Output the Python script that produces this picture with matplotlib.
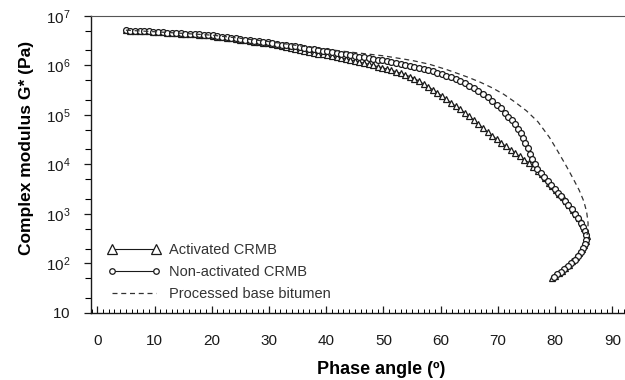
import math
import matplotlib
matplotlib.use("Agg")
import matplotlib.pyplot as plt
from matplotlib.ticker import FixedLocator, MultipleLocator, FuncFormatter

# Activated CRMB (triangles): phase angle (deg), complex modulus (Pa)
act_phase = [
    5.0, 5.8, 6.6, 7.4, 8.2, 9.0, 9.8, 10.6, 11.4, 12.2, 13.0, 13.8, 14.6, 15.4,
    16.2, 17.0, 17.8, 18.6, 19.4, 20.2, 21.0, 21.8, 22.6, 23.4, 24.2, 25.0, 25.8,
    26.6, 27.4, 28.2, 29.0, 29.8, 30.6, 31.4, 32.2, 33.0, 33.8, 34.6, 35.4, 36.2,
    37.0, 37.8, 38.6, 39.4, 40.2, 41.0, 41.8, 42.6, 43.4, 44.2, 45.0, 45.8, 46.6,
    47.4, 48.2, 49.0, 49.8, 50.6, 51.4, 52.2, 53.0, 53.8, 54.6, 55.4, 56.2, 57.0,
    57.8, 58.6, 59.4, 60.2, 61.0, 61.8, 62.6, 63.4, 64.2, 65.0, 65.8, 66.6, 67.4,
    68.2, 69.0, 69.8, 70.6, 71.4, 72.2, 73.0, 73.8, 74.6, 75.4, 76.2, 77.0, 77.7,
    78.3, 78.9, 79.5, 80.1, 80.7, 81.3, 81.9, 82.5, 83.1, 83.6, 84.1, 84.6, 85.0,
    85.3, 85.5, 85.4, 85.1, 84.7, 84.2, 83.6, 83.0, 82.4, 81.8, 81.2, 80.6, 80.0,
    79.4,
]
act_g = [
    5.1e6, 5.0e6, 4.95e6, 4.9e6, 4.85e6, 4.8e6, 4.7e6, 4.65e6, 4.6e6, 4.55e6,
    4.5e6, 4.4e6, 4.35e6, 4.3e6, 4.25e6, 4.2e6, 4.1e6, 4.05e6, 4.0e6, 3.9e6,
    3.8e6, 3.7e6, 3.6e6, 3.5e6, 3.4e6, 3.3e6, 3.2e6, 3.1e6, 3.0e6, 2.9e6,
    2.85e6, 2.75e6, 2.65e6, 2.55e6, 2.45e6, 2.35e6, 2.25e6, 2.15e6, 2.05e6,
    1.95e6, 1.87e6, 1.8e6, 1.72e6, 1.65e6, 1.58e6, 1.52e6, 1.46e6, 1.4e6,
    1.34e6, 1.28e6, 1.22e6, 1.16e6, 1.1e6, 1.05e6, 9.9e5, 9.4e5, 8.9e5, 8.4e5,
    7.9e5, 7.4e5, 6.9e5, 6.4e5, 5.9e5, 5.4e5, 4.8e5, 4.2e5, 3.7e5, 3.2e5,
    2.8e5, 2.4e5, 2.05e5, 1.75e5, 1.5e5, 1.3e5, 1.1e5, 9.3e4, 7.8e4, 6.5e4,
    5.4e4, 4.5e4, 3.8e4, 3.2e4, 2.7e4, 2.3e4, 1.95e4, 1.7e4, 1.45e4, 1.25e4,
    1.08e4, 9.0e3, 7.5e3, 6.3e3, 5.2e3, 4.3e3, 3.6e3, 3.0e3, 2.55e3, 2.15e3,
    1.8e3, 1.5e3, 1.22e3, 1.0e3, 8.2e2, 6.6e2, 5.3e2, 4.3e2, 3.5e2, 2.85e2,
    2.35e2, 1.95e2, 1.6e2, 1.33e2, 1.12e2, 9.5e1, 8.2e1, 7.1e1, 6.3e1, 5.6e1,
    5.0e1,
]

# Non-activated CRMB (circles)
non_phase = [
    5.0, 5.8, 6.6, 7.4, 8.2, 9.0, 9.8, 10.6, 11.4, 12.2, 13.0, 13.8, 14.6, 15.4,
    16.2, 17.0, 17.8, 18.6, 19.4, 20.2, 21.0, 21.8, 22.6, 23.4, 24.2, 25.0, 25.8,
    26.6, 27.4, 28.2, 29.0, 29.8, 30.6, 31.4, 32.2, 33.0, 33.8, 34.6, 35.4, 36.2,
    37.0, 37.8, 38.6, 39.4, 40.2, 41.0, 41.8, 42.6, 43.4, 44.2, 45.0, 45.8, 46.6,
    47.4, 48.2, 49.0, 49.8, 50.6, 51.4, 52.2, 53.0, 53.8, 54.6, 55.4, 56.2, 57.0,
    57.8, 58.6, 59.4, 60.2, 61.0, 61.8, 62.6, 63.4, 64.2, 65.0, 65.8, 66.6, 67.4,
    68.2, 69.0, 69.8, 70.5, 71.2, 71.8, 72.4, 73.0, 73.5, 74.0, 74.4, 74.8, 75.2,
    75.6, 76.0, 76.4, 76.9, 77.5, 78.1, 78.7, 79.3, 79.9, 80.5, 81.1, 81.7, 82.3,
    82.9, 83.5, 84.0, 84.5, 84.9, 85.2, 85.4, 85.4, 85.2, 84.9, 84.5, 84.0, 83.4,
    82.8, 82.2, 81.6, 81.0, 80.4, 79.8,
]
non_g = [
    5.1e6, 5.0e6, 5.0e6, 4.9e6, 4.85e6, 4.8e6, 4.75e6, 4.7e6, 4.6e6, 4.55e6,
    4.5e6, 4.45e6, 4.4e6, 4.35e6, 4.3e6, 4.25e6, 4.2e6, 4.1e6, 4.05e6, 4.0e6,
    3.9e6, 3.8e6, 3.7e6, 3.6e6, 3.5e6, 3.4e6, 3.3e6, 3.2e6, 3.1e6, 3.05e6,
    3.0e6, 2.9e6, 2.8e6, 2.7e6, 2.6e6, 2.55e6, 2.45e6, 2.4e6, 2.3e6, 2.25e6,
    2.15e6, 2.1e6, 2.0e6, 1.95e6, 1.9e6, 1.85e6, 1.8e6, 1.7e6, 1.65e6, 1.6e6,
    1.55e6, 1.5e6, 1.45e6, 1.4e6, 1.35e6, 1.3e6, 1.25e6, 1.2e6, 1.15e6, 1.1e6,
    1.05e6, 1.0e6, 9.6e5, 9.2e5, 8.8e5, 8.3e5, 7.9e5, 7.5e5, 7.1e5, 6.7e5,
    6.2e5, 5.8e5, 5.3e5, 4.8e5, 4.3e5, 3.8e5, 3.4e5, 3.0e5, 2.6e5, 2.25e5,
    1.9e5, 1.6e5, 1.35e5, 1.1e5, 9.2e4, 7.8e4, 6.5e4, 5.2e4, 4.2e4, 3.4e4,
    2.7e4, 2.1e4, 1.65e4, 1.3e4, 1.0e4, 8.2e3, 6.8e3, 5.6e3, 4.6e3, 3.9e3,
    3.2e3, 2.7e3, 2.25e3, 1.85e3, 1.5e3, 1.25e3, 1.0e3, 8.3e2, 6.7e2, 5.5e2,
    4.5e2, 3.7e2, 3.0e2, 2.5e2, 2.05e2, 1.7e2, 1.4e2, 1.2e2, 1.02e2, 8.8e1,
    7.6e1, 6.7e1, 6.0e1, 5.4e1,
]

# Processed base bitumen (dashed line)
base_phase = [5, 10, 15, 20, 25, 30, 35, 40, 45, 50, 55, 58, 61, 63, 65, 67, 69,
              71, 73, 75, 77, 79, 80.5, 82, 83.2, 84.2, 85.0, 85.5, 85.75, 85.7,
              85.5]
base_g = [5.1e6, 4.75e6, 4.4e6, 4.05e6, 3.5e6, 3.0e6, 2.5e6, 2.1e6, 1.8e6,
          1.55e6, 1.25e6, 1.05e6, 8.2e5, 6.8e5, 5.6e5, 4.5e5, 3.5e5, 2.6e5,
          1.8e5, 1.2e5, 7.2e4, 3.5e4, 1.8e4, 9e3, 5e3, 3e3, 1.8e3, 1.1e3, 6.5e2,
          4.5e2, 3.4e2]

FONT = ["Liberation Sans", "DejaVu Sans"]

plt.rcParams["font.family"] = FONT
plt.rcParams["mathtext.fontset"] = "custom"
plt.rcParams["mathtext.rm"] = "Liberation Sans"
plt.rcParams["mathtext.it"] = "Liberation Sans"
plt.rcParams["mathtext.bf"] = "Liberation Sans"

fig = plt.figure(figsize=(6.25, 3.8), dpi=100)
ax = fig.add_axes([91 / 625, 1 - 313 / 380, 1 - 91 / 625, (313 - 15.7) / 380])

ink = "#1a1a1a"
ax.plot(act_phase, act_g, "-", color=ink, lw=0.8, marker="^", ms=4.5,
        mfc="white", mec=ink, mew=0.9, label="Activated CRMB")
ax.plot(non_phase, non_g, "-", color=ink, lw=0.8, marker="o", ms=4.2,
        mfc="white", mec=ink, mew=0.9, label="Non-activated CRMB")
ax.plot(base_phase, base_g, "--", color="#333333", lw=0.9, dashes=(4, 3),
        label="Processed base bitumen")

ax.set_yscale("log")
ax.set_ylim(10, 1e7)
ax.set_xlim(-1.1, 92.2)


def ylab(v, pos):
    k = round(math.log10(v))
    return "$10$" if k == 1 else r"$10^{%d}$" % k


ax.yaxis.set_major_locator(FixedLocator([10 ** k for k in range(1, 8)]))
ax.yaxis.set_minor_locator(FixedLocator([m * 10 ** k for k in range(1, 7) for m in (2, 5)]))
ax.yaxis.set_major_formatter(FuncFormatter(ylab))
ax.yaxis.set_minor_formatter(FuncFormatter(lambda v, p: ""))

ax.xaxis.set_major_locator(MultipleLocator(10))
ax.xaxis.set_minor_locator(MultipleLocator(1))

ax.tick_params(axis="y", which="major", direction="out", length=5, width=0.9,
               pad=10, labelsize=11, colors=ink)
ax.tick_params(axis="y", which="minor", direction="out", length=4, width=0.8)
ax.tick_params(axis="x", which="major", direction="in", length=5, width=0.9,
               pad=15, labelsize=11, colors=ink)
ax.tick_params(axis="x", which="minor", direction="in", length=3, width=0.7)

ax.spines["right"].set_visible(False)
ax.spines["top"].set_color("#555555")
for s in ("left", "bottom"):
    ax.spines[s].set_color(ink)
    ax.spines[s].set_linewidth(1.0)

fig.text(381 / 625, 1 - 369 / 380, "Phase angle (º)", ha="center", va="center",
         fontsize=13, fontweight="bold")
fig.text(27 / 625, 1 - 148 / 380, "Complex modulus G* (Pa)", ha="center",
         va="center", rotation=90, fontsize=12.5, fontweight="bold")

leg = ax.legend(loc="lower left", bbox_to_anchor=(0.02, 0.02), frameon=False,
                fontsize=10.5, numpoints=2, handlelength=3.6, handletextpad=0.6,
                labelspacing=0.55, borderaxespad=0.0)
for t in leg.get_texts():
    t.set_color("#333333")
leg.legend_handles[0].set_markersize(7)
leg.legend_handles[1].set_markersize(4)

fig.savefig("out.png", dpi=100)
